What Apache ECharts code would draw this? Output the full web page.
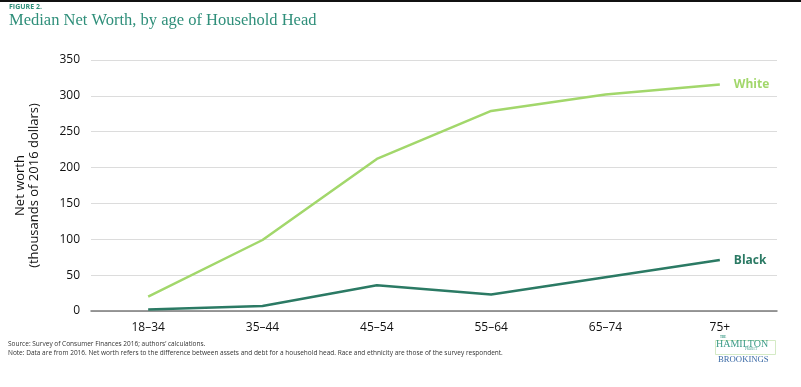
<!DOCTYPE html>
<html><head><meta charset="utf-8">
<script src="https://cdn.jsdelivr.net/npm/echarts@6/dist/echarts.min.js"></script>
<style>html,body{margin:0;padding:0;background:#fff}#c{width:801px;height:387px}</style>
</head><body><div id="c"></div>
<script>
const categories = ['18–34','35–44','45–54','55–64','65–74','75+'];
const white = [20, 99, 212, 279, 302, 316];
const black = [2, 7, 36, 23, 47, 71];
const yTicks = {min: 0, max: 350, interval: 50};

const chart = echarts.init(document.getElementById('c'), null, {renderer: 'canvas'});
const sans = '"Open Sans", "Noto Sans", sans-serif';
const serif = '"Liberation Serif", "DejaVu Serif", serif';
chart.setOption({
  animation: false,
  backgroundColor: '#fff',
  grid: {left: 91, right: 24, top: 60, bottom: 76, containLabel: false},
  xAxis: {
    type: 'category', data: categories, boundaryGap: true,
    axisLine: {lineStyle: {color: '#7a7a7a', width: 1.5}},
    axisTick: {show: false},
    axisLabel: {color: '#111', fontSize: 12, fontFamily: sans, margin: 11}
  },
  yAxis: {
    type: 'value', min: yTicks.min, max: yTicks.max, interval: yTicks.interval,
    name: 'Net worth\n(thousands of 2016 dollars)', nameLocation: 'middle', nameGap: 50,
    nameTextStyle: {color: '#111', fontSize: 13, fontFamily: sans, lineHeight: 14},
    axisLine: {show: false}, axisTick: {show: false},
    axisLabel: {color: '#111', fontSize: 12, fontFamily: sans, margin: 11},
    splitLine: {lineStyle: {color: '#dcdcdc', width: 1}}
  },
  series: [
    {name: 'White', type: 'line', data: white, symbol: 'none',
     lineStyle: {color: '#a2d76b', width: 2.5}, itemStyle: {color: '#a2d76b'},
     endLabel: {show: true, formatter: '{a}', color: '#a2d76b', fontWeight: 'bold', fontSize: 12, fontFamily: sans, distance: 14}},
    {name: 'Black', type: 'line', data: black, symbol: 'none',
     lineStyle: {color: '#2b7a64', width: 2.5}, itemStyle: {color: '#2b7a64'},
     endLabel: {show: true, formatter: '{a}', color: '#2b7a64', fontWeight: 'bold', fontSize: 12, fontFamily: sans, distance: 14}}
  ],
  graphic: [
    {type: 'rect', left: 0, top: 0, shape: {width: 801, height: 2}, style: {fill: '#111'}},
    {type: 'text', left: 9, top: 3, style: {text: 'FIGURE 2.', fill: '#2f8f7a', font: 'bold 7px ' + sans}},
    {type: 'text', left: 9, top: 12, style: {text: 'Median Net Worth, by age of Household Head', fill: '#2f8f7a', font: '16.5px ' + serif}},
    {type: 'text', left: 8, top: 341, style: {text: 'Source: Survey of Consumer Finances 2016; authors\u2019 calculations.', fill: '#333', font: '6.5px ' + sans}},
    {type: 'text', left: 8, top: 350, style: {text: 'Note: Data are from 2016. Net worth refers to the difference between assets and debt for a household head. Race and ethnicity are those of the survey respondent.', fill: '#333', font: '6.5px ' + sans}},
    {type: 'rect', left: 713, top: 338, shape: {width: 60, height: 14}, style: {fill: 'none', stroke: '#c9e4b6', lineWidth: 0.8}},
    {type: 'text', left: 720, top: 336, style: {text: 'THE', fill: '#3a9a86', font: 'bold 3px ' + serif}},
    {type: 'text', left: 716, top: 339, style: {text: 'HAMILTON', fill: '#3a9a86', font: '10px ' + serif}},
    {type: 'text', left: 745, top: 348, style: {text: 'PROJECT', fill: '#3a9a86', font: '3px ' + serif}},
    {type: 'text', left: 718, top: 355, style: {text: 'BROOKINGS', fill: '#3b6aa6', font: '8.7px ' + serif}}
  ]
});
</script></body></html>
